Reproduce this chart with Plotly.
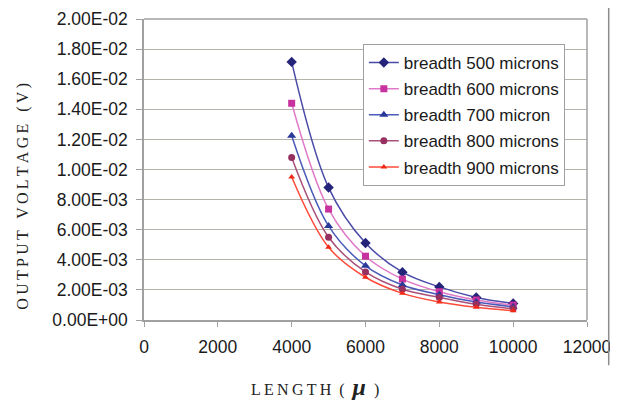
import plotly.graph_objects as go

lengths = [4000, 5000, 6000, 7000, 8000, 9000, 10000]
v_500 = [0.01715, 0.00880, 0.00512, 0.00318, 0.00220, 0.00150, 0.00110]
v_600 = [0.01440, 0.00737, 0.00424, 0.00272, 0.00188, 0.00133, 0.00099]
v_700 = [0.01225, 0.00625, 0.00360, 0.00233, 0.00168, 0.00119, 0.00088]
v_800 = [0.01080, 0.00550, 0.00319, 0.00204, 0.00150, 0.00104, 0.00074]
v_900 = [0.00950, 0.00483, 0.00284, 0.00177, 0.00120, 0.00085, 0.00062]

series = [
    ("breadth 500 microns", v_500, "#4A4AA8", "#23237A", "diamond", 8),
    ("breadth 600 microns", v_600, "#E07AC8", "#C8329E", "square", 7),
    ("breadth 700 micron", v_700, "#4A5AB8", "#2A3898", "triangle-up", 8),
    ("breadth 800 microns", v_800, "#A8507A", "#963060", "circle", 7),
    ("breadth 900 microns", v_900, "#FF4A3A", "#F02818", "triangle-up", 6),
]

x_ticks = [0, 2000, 4000, 6000, 8000, 10000, 12000]
y_ticks = [0, 0.002, 0.004, 0.006, 0.008, 0.010, 0.012, 0.014, 0.016, 0.018, 0.020]
y_tick_labels = ["0.00E+00", "2.00E-03", "4.00E-03", "6.00E-03", "8.00E-03",
                 "1.00E-02", "1.20E-02", "1.40E-02", "1.60E-02", "1.80E-02", "2.00E-02"]

GAP = "<span style='font-size:13px'> </span>"  # letter spacing in titles
WGAP = "<span style='font-size:16px'>   </span>"


def spaced(word):
    return GAP.join(list(word))


y_title = spaced("OUTPUT") + WGAP + spaced("VOLTAGE") + WGAP + spaced("(V)")
x_title = (spaced("LENGTH") + "  (  " +
           "<b><i><span style='font-size:24px'>μ</span></i></b>" + "  )")

fig = go.Figure()
for i, (name, vals, lc, mc, sym, ms) in enumerate(series):
    fig.add_trace(go.Scatter(
        x=lengths, y=vals, name=name, mode="lines+markers", legendgroup=f"g{i}",
        line=dict(color=lc, width=1.5, shape="spline", smoothing=1.0),
        marker=dict(symbol=sym, size=ms, color=mc),
    ))

grid = "#B4B4AC"
serif = "Liberation Serif, Times New Roman, serif"
fig.update_layout(
    width=610, height=393,
    margin=dict(l=136, r=31, t=11, b=81),
    paper_bgcolor="white", plot_bgcolor="white",
    font=dict(family="Liberation Sans, Arial, sans-serif", size=17, color="#1a1a1a"),
    showlegend=True,
    legend=dict(
        x=0.494, y=0.917, xanchor="left", yanchor="top",
        bgcolor="white", bordercolor="#A0A0A0", borderwidth=1,
        font=dict(size=17, family="Liberation Sans, Arial, sans-serif", color="#1a1a1a"),
        traceorder="grouped", tracegroupgap=1, itemwidth=30,
    ),
    xaxis=dict(
        range=[0, 12000], tickvals=x_ticks, ticktext=[str(t) for t in x_ticks],
        showgrid=False, zeroline=False, showline=True, linecolor="#A0A0A0", linewidth=1.5,
        ticks="outside", ticklen=5, tickcolor="#A0A0A0", ticklabelstandoff=5,
        tickfont=dict(size=17.5), automargin=False,
    ),
    yaxis=dict(
        range=[0, 0.02], tickvals=y_ticks, ticktext=y_tick_labels,
        showgrid=True, gridcolor=grid, gridwidth=1.2, zeroline=False,
        showline=True, linecolor="#A0A0A0", linewidth=1.5,
        ticks="outside", ticklen=6, tickcolor="#A0A0A0", ticklabelstandoff=5,
        tickfont=dict(size=17.5), automargin=False,
    ),
    annotations=[
        dict(text=x_title, xref="paper", yref="paper", x=0.386, y=-0.222,
             xanchor="center", yanchor="middle", showarrow=False,
             font=dict(family=serif, size=16, color="#222")),
        dict(text=y_title, xref="paper", yref="paper", x=-0.273, y=0.41,
             xanchor="center", yanchor="middle", showarrow=False, textangle=-90,
             font=dict(family=serif, size=16, color="#222")),
    ],
    shapes=[
        dict(type="line", xref="paper", yref="paper", x0=1.0, x1=1.0, y0=0, y1=1,
             line=dict(color="#A0A0A0", width=1.5)),
        dict(type="line", xref="paper", yref="paper", x0=0, x1=1.0, y0=1, y1=1,
             line=dict(color="#A0A0A0", width=1.5)),
        dict(type="line", xref="paper", yref="paper", x0=1.049, x1=1.049, y0=-0.15, y1=1.04,
             line=dict(color="#8C8C8C", width=1.5), layer="above"),
    ],
)

fig.write_html("out.html")
